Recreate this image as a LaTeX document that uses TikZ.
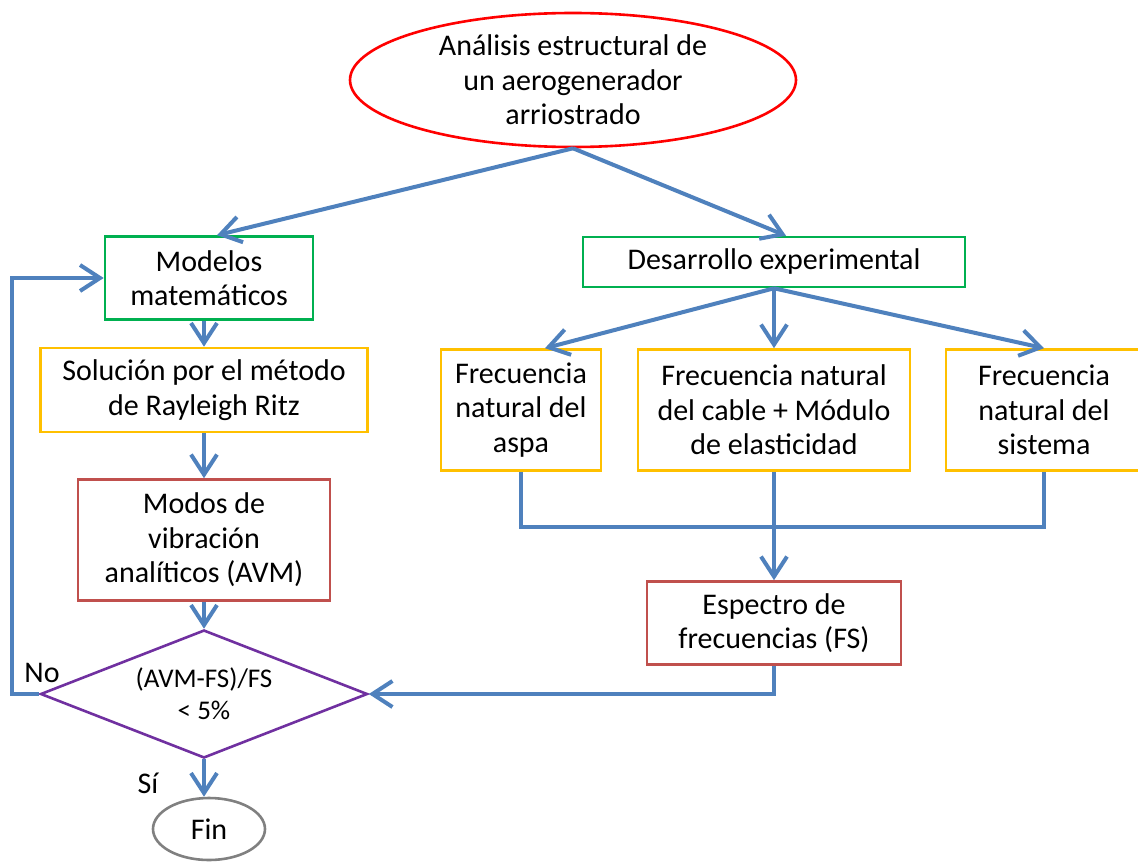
\documentclass[tikz,border=0pt]{standalone}
\usepackage{fontspec}
\setmainfont{Carlito}
\usetikzlibrary{arrows.meta, shapes.geometric}

\definecolor{flowblue}{HTML}{4F81BD}
\definecolor{boxgreen}{HTML}{00B050}
\definecolor{boxyellow}{HTML}{FFC000}
\definecolor{boxred}{HTML}{C0504D}
\definecolor{boxpurple}{HTML}{7030A0}

\begin{document}
\begin{tikzpicture}[
  x=0.5pt, y=-0.5pt,
  box/.style={draw, line width=1.3pt, align=center, inner sep=0pt,
              font=\fontsize{15}{17.2}\selectfont},
  flow/.style={draw=flowblue, line width=2pt,
               -{Straight Barb[length=10pt, width=13pt]}},
  plain/.style={draw=flowblue, line width=2pt},
  labelnode/.style={font=\fontsize{15}{17.2}\selectfont, inner sep=1pt}
]
  \useasboundingbox (0,0) rectangle (1138,861);

  %------------------------------------------------------------
  %  TOP
  %------------------------------------------------------------
  \node[box, ellipse, draw=red, minimum width=223pt, minimum height=67pt]
    (top) at (573,80) {Análisis estructural de\\un aerogenerador\\arriostrado};

  %------------------------------------------------------------
  %  LEFT COLUMN:  models
  %------------------------------------------------------------
  \node[box, draw=boxgreen, minimum width=104pt, minimum height=41.5pt]
    (mod) at (209,278) {Modelos\\matemáticos};
  \node[box, draw=boxyellow, minimum width=163.5pt, minimum height=42pt]
    (sol) at (204,390) {Solución por el método\\de Rayleigh Ritz};
  \node[box, draw=boxred, minimum width=126pt, minimum height=60.5pt]
    (avm) at (204,540) {Modos de\\vibración\\analíticos (AVM)};
  \node[box, diamond, draw=boxpurple, aspect=2.5,
        minimum width=163.5pt, minimum height=64pt,
        font=\fontsize{13.5}{16}\selectfont]
    (dia) at (204,694) {(AVM-FS)/FS\\< 5\%};
  \node[box, ellipse, draw=gray, minimum width=56pt, minimum height=31pt]
    (fin) at (209,829) {Fin};

  %------------------------------------------------------------
  %  RIGHT COLUMN:  experiments
  %------------------------------------------------------------
  \node[box, draw=boxgreen, minimum width=191pt, minimum height=25pt]
    (des) at (774,262) {Desarrollo experimental};
  \node[box, draw=boxyellow, minimum width=80pt, minimum height=60.5pt]
    (aspa) at (521,410) {Frecuencia\\natural del\\aspa};
  \node[box, draw=boxyellow, minimum width=136pt, minimum height=60.5pt]
    (cable) at (774,410) {Frecuencia natural\\del cable + Módulo\\de elasticidad};
  \node[box, draw=boxyellow, minimum width=98pt, minimum height=60.5pt]
    (sis) at (1044,410) {Frecuencia\\natural del\\sistema};
  \node[box, draw=boxred, minimum width=127pt, minimum height=41.5pt]
    (esp) at (774,623) {Espectro de\\frecuencias (FS)};

  %------------------------------------------------------------
  %  LABELS
  %------------------------------------------------------------
  \node[labelnode] (no) at (42,673) {No};
  \node[labelnode] (si) at (148,783) {Sí};

  %------------------------------------------------------------
  %  CONNECTORS
  %------------------------------------------------------------
  \coordinate (noturn) at (12,694);
  \coordinate (join) at (774,527);

  \draw[flow] (top.south) -- ([xshift=4pt]mod.north);
  \draw[flow] (top.south) -- ([xshift=6pt]des.north);

  \draw[flow] (sol.north |- mod.south) -- (sol.north);
  \draw[flow] (sol.south) -- (avm.north);
  \draw[flow] (avm.south) -- (dia.north);
  \draw[flow] (dia.south) -- (dia.south |- fin.north);
  \draw[flow] (dia.west) -- (noturn) |- (mod.west);

  \draw[flow] (des.south) -- ([xshift=12pt]aspa.north);
  \draw[flow] (des.south) -- (cable.north);
  \draw[flow] (des.south) -- (sis.north);

  \draw[plain] (aspa.south) |- (join) -| (sis.south);
  \draw[flow] (cable.south) -- (esp.north);
  \draw[flow] (esp.south) |- (dia.east);

\end{tikzpicture}
\end{document}
